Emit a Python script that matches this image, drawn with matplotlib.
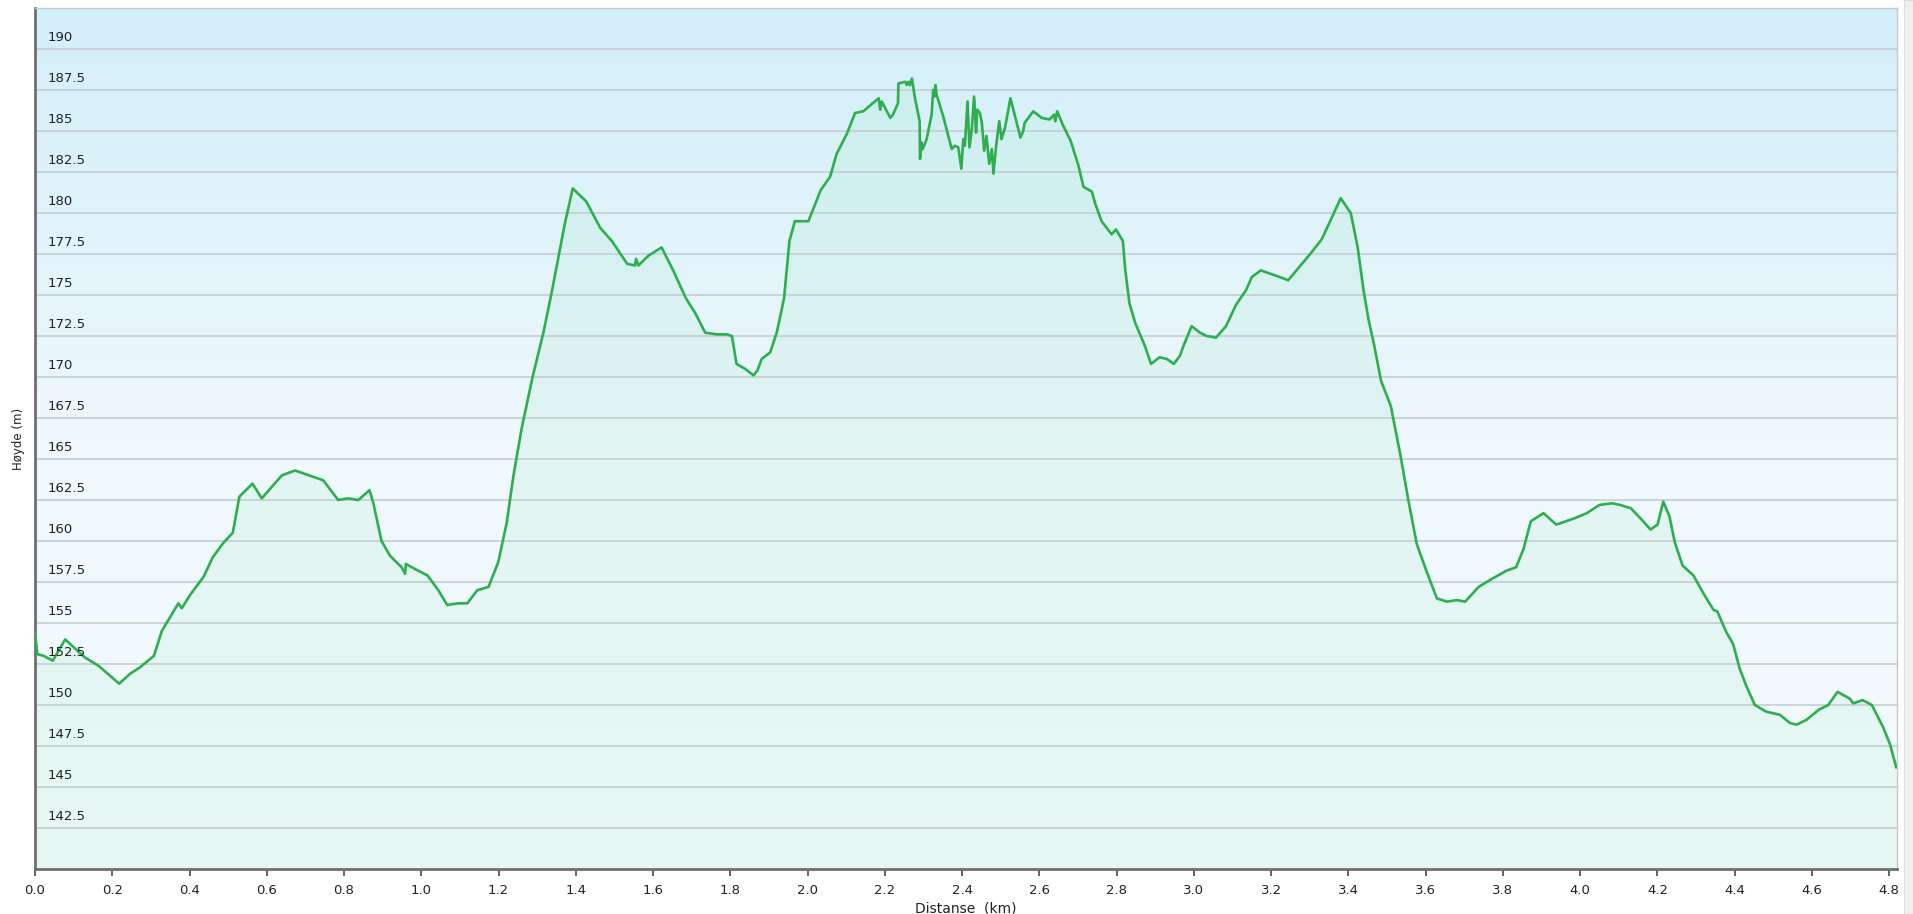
import numpy as np
import matplotlib
matplotlib.use('Agg')
import matplotlib.pyplot as plt
from matplotlib.colors import LinearSegmentedColormap
from matplotlib.patches import Rectangle

# elevation profile (km, m)
dist_km = [
    0.000, 0.006, 0.022, 0.046, 0.078, 0.129, 0.164, 0.218, 0.246, 0.272,
    0.308, 0.328, 0.371, 0.380, 0.401, 0.436, 0.460, 0.488, 0.512, 0.529,
    0.563, 0.587, 0.639, 0.673, 0.746, 0.785, 0.811, 0.837, 0.866, 0.876,
    0.897, 0.919, 0.949, 0.958, 0.960, 0.983, 1.016, 1.044, 1.067, 1.096,
    1.119, 1.145, 1.174, 1.199, 1.221, 1.238, 1.260, 1.288, 1.316, 1.337,
    1.359, 1.372, 1.392, 1.427, 1.463, 1.493, 1.533, 1.553, 1.556, 1.562,
    1.588, 1.622, 1.652, 1.685, 1.709, 1.735, 1.765, 1.791, 1.804, 1.816,
    1.838, 1.860, 1.870, 1.881, 1.903, 1.920, 1.939, 1.953, 1.967, 2.002,
    2.034, 2.058, 2.075, 2.101, 2.123, 2.144, 2.184, 2.188, 2.192, 2.214,
    2.221, 2.234, 2.235, 2.253, 2.257, 2.261, 2.265, 2.270, 2.278, 2.290,
    2.291, 2.295, 2.298, 2.308, 2.321, 2.325, 2.328, 2.331, 2.334, 2.351,
    2.373, 2.381, 2.390, 2.398, 2.403, 2.407, 2.414, 2.419, 2.425, 2.431,
    2.436, 2.439, 2.446, 2.451, 2.457, 2.463, 2.470, 2.477, 2.481, 2.488,
    2.496, 2.502, 2.511, 2.525, 2.537, 2.551, 2.558, 2.562, 2.584, 2.606,
    2.626, 2.638, 2.641, 2.646, 2.662, 2.681, 2.701, 2.714, 2.736, 2.744,
    2.761, 2.787, 2.798, 2.816, 2.822, 2.833, 2.848, 2.873, 2.889, 2.911,
    2.930, 2.948, 2.964, 2.973, 2.994, 3.016, 3.033, 3.057, 3.083, 3.109,
    3.135, 3.150, 3.173, 3.210, 3.244, 3.301, 3.331, 3.380, 3.406, 3.424,
    3.439, 3.452, 3.467, 3.484, 3.510, 3.534, 3.555, 3.577, 3.603, 3.629,
    3.655, 3.681, 3.702, 3.737, 3.772, 3.810, 3.834, 3.853, 3.872, 3.905,
    3.938, 3.987, 4.017, 4.050, 4.082, 4.103, 4.131, 4.159, 4.182, 4.200,
    4.215, 4.231, 4.245, 4.265, 4.293, 4.319, 4.345, 4.355, 4.377, 4.396,
    4.413, 4.431, 4.452, 4.481, 4.517, 4.543, 4.560, 4.586, 4.617, 4.642,
    4.666, 4.697, 4.707, 4.731, 4.755, 4.785, 4.802, 4.818,
]
elev_m = [
    154.4, 153.1, 153.0, 152.7, 154.0, 152.9, 152.4, 151.3, 151.9, 152.3,
    153.0, 154.5, 156.2, 155.9, 156.7, 157.8, 159.0, 159.9, 160.5, 162.7,
    163.5, 162.6, 164.0, 164.3, 163.7, 162.5, 162.6, 162.5, 163.1, 162.3,
    160.0, 159.1, 158.4, 158.0, 158.6, 158.3, 157.9, 157.0, 156.1, 156.2,
    156.2, 157.0, 157.2, 158.7, 161.1, 163.9, 166.9, 170.0, 172.7, 175.1,
    177.8, 179.4, 181.5, 180.7, 179.1, 178.3, 176.9, 176.8, 177.2, 176.8,
    177.4, 177.9, 176.5, 174.8, 173.9, 172.7, 172.6, 172.6, 172.5, 170.8,
    170.5, 170.1, 170.4, 171.1, 171.5, 172.7, 174.8, 178.3, 179.5, 179.5,
    181.4, 182.2, 183.6, 184.8, 186.1, 186.2, 187.0, 186.3, 186.8, 185.8,
    186.0, 186.7, 187.9, 188.0, 187.8, 188.0, 187.8, 188.2, 187.0, 185.6,
    183.3, 184.3, 183.9, 184.5, 186.0, 187.5, 187.1, 187.8, 187.2, 185.9,
    183.9, 184.1, 184.0, 182.7, 184.5, 184.1, 186.8, 184.0, 185.1, 187.1,
    184.9, 186.3, 186.1, 185.5, 183.8, 184.7, 183.0, 183.9, 182.4, 184.1,
    185.6, 184.5, 185.2, 187.0, 185.9, 184.6, 185.0, 185.5, 186.2, 185.8,
    185.7, 186.0, 185.6, 186.2, 185.3, 184.4, 182.9, 181.6, 181.3, 180.6,
    179.5, 178.7, 179.0, 178.3, 176.6, 174.5, 173.3, 171.9, 170.8, 171.2,
    171.1, 170.8, 171.3, 171.9, 173.1, 172.7, 172.5, 172.4, 173.1, 174.4,
    175.3, 176.1, 176.5, 176.2, 175.9, 177.5, 178.4, 180.9, 180.0, 177.9,
    175.3, 173.5, 171.9, 169.8, 168.2, 165.3, 162.5, 159.8, 158.1, 156.5,
    156.3, 156.4, 156.3, 157.2, 157.7, 158.2, 158.4, 159.5, 161.2, 161.7,
    161.0, 161.4, 161.7, 162.2, 162.3, 162.2, 162.0, 161.3, 160.7, 161.0,
    162.4, 161.5, 159.9, 158.5, 157.9, 156.8, 155.8, 155.7, 154.5, 153.7,
    152.2, 151.1, 150.0, 149.6, 149.4, 148.9, 148.8, 149.1, 149.7, 150.0,
    150.8, 150.4, 150.1, 150.3, 150.0, 148.6, 147.6, 146.2,
]

y_ticks = [142.5, 145, 147.5, 150, 152.5, 155, 157.5, 160, 162.5, 165, 167.5,
           170, 172.5, 175, 177.5, 180, 182.5, 185, 187.5, 190]
x_ticks = [0.0, 0.2, 0.4, 0.6, 0.8, 1.0, 1.2, 1.4, 1.6, 1.8, 2.0, 2.2, 2.4,
           2.6, 2.8, 3.0, 3.2, 3.4, 3.6, 3.8, 4.0, 4.2, 4.4, 4.6, 4.8]

xmin, xmax = 0.0, 4.82
ymin, ymax = 140.0, 192.5

fig = plt.figure(figsize=(19.13, 9.14), dpi=100)
fig.patch.set_facecolor('white')
ax = fig.add_axes([35/1913, 1 - 869/914, (1897-35)/1913, (869-8)/914])

# sky gradient background
bg = LinearSegmentedColormap.from_list('bg', ['#f4fbfe', '#eef8fd', '#d3eff9'])
grad = np.linspace(0, 1, 256).reshape(-1, 1)
ax.imshow(grad, cmap=bg, aspect='auto', origin='lower',
          extent=[xmin, xmax, ymin, ymax], zorder=0)

ax.fill_between(dist_km, elev_m, ymin, color='#3fd67a', alpha=0.07, lw=0, zorder=1)
for t in y_ticks:
    ax.axhline(t, color='#c4cdd1', lw=1.2, zorder=2)
ax.plot(dist_km, elev_m, color='#2eae4e', lw=1.9, zorder=3)

ax.set_xlim(xmin, xmax)
ax.set_ylim(ymin, ymax)

ax.set_yticks(y_ticks)
ax.set_yticklabels([])
ax.tick_params(axis='y', length=0)
for t in y_ticks:
    ax.text(0.0065, t + 0.28, f'{t:g}', fontsize=9.5, color='#222222',
            ha='left', va='bottom', zorder=4,
            transform=ax.get_yaxis_transform())

ax.set_xticks(x_ticks)
ax.set_xticklabels([f'{t:.1f}' for t in x_ticks], fontsize=9.5, color='#222222')
ax.tick_params(axis='x', direction='out', length=5, width=1.3, color='#555555', pad=6)

for s in ['left', 'bottom']:
    ax.spines[s].set_color('#6f6f6f')
    ax.spines[s].set_linewidth(2)
for s in ['top', 'right']:
    ax.spines[s].set_color('#c8c8c8')
    ax.spines[s].set_linewidth(1)

ax.set_ylabel('Høyde (m)', fontsize=8.5, color='#222222', labelpad=4)
ax.set_xlabel('Distanse  (km)', fontsize=10, color='#222222', labelpad=3)

# scrollbar strip on the right
fig.patches.append(Rectangle((1904/1913, 0), 9/1913, 1, transform=fig.transFigure,
                             facecolor='#f0f0f0', edgecolor='#dddddd', lw=0.8))

fig.savefig('out.png', dpi=100)
